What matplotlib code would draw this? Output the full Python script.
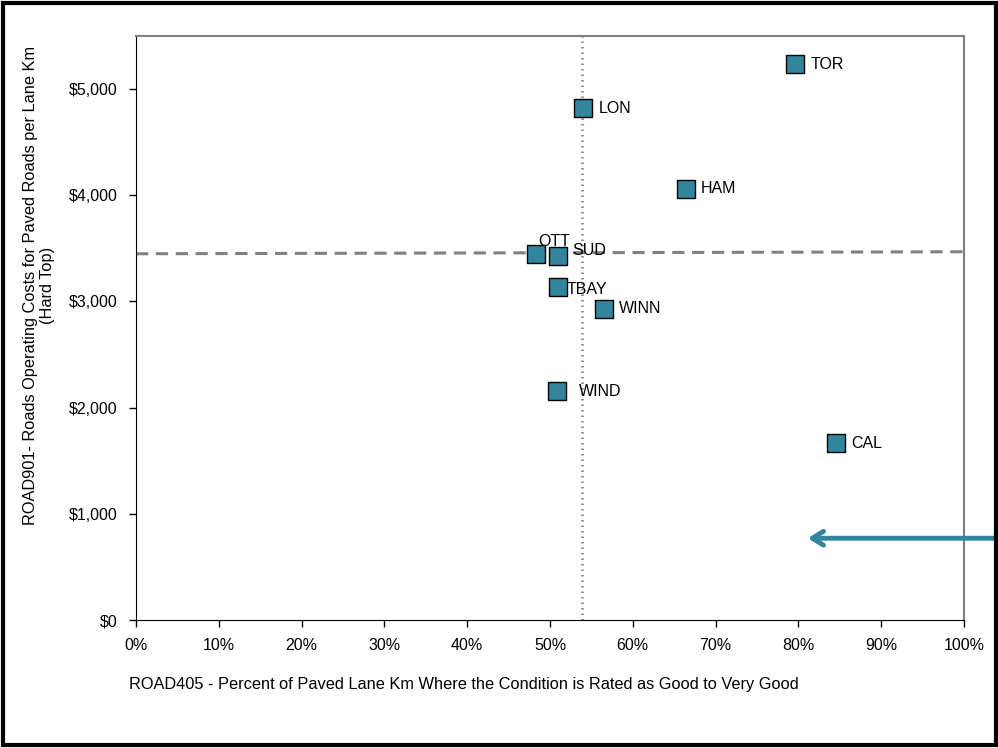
import matplotlib.pyplot as plt
from matplotlib.patches import Rectangle
from matplotlib.ticker import FuncFormatter

plt.rcParams['font.family'] = ['Liberation Sans', 'DejaVu Sans']

cities = ["TOR", "LON", "HAM", "OTT", "SUD", "TBAY", "WINN", "WIND", "CAL"]
pct_good = [79.6, 54.0, 66.4, 48.3, 51.0, 51.0, 56.5, 50.8, 84.5]
cost = [5235, 4821, 4060, 3449, 3430, 3139, 2932, 2152, 1664]

# label offsets in points (dx, dy)
offsets = {"OTT": (2, 9), "SUD": (10, 4), "TBAY": (6, -2), "WIND": (16, 0)}

median_pct = 53.9
avg_line = [3449, 3468]

teal = "#31859C"

fig = plt.figure(figsize=(9.98, 7.48), dpi=100)
ax = fig.add_axes([136 / 998, 1 - 620 / 748, (964 - 136) / 998, (620 - 36) / 748])

ax.plot([0, 100], avg_line, color="#808080", lw=2.2, ls=(0, (4, 2.5)), zorder=1)
ax.axvline(median_pct, color="#808080", lw=1.8, ls=(0, (0.6, 1.6)), zorder=1)

ax.scatter(pct_good, cost, marker="s", s=150, color=teal, edgecolor="black",
           linewidth=1.0, zorder=3)
for name, x, y in zip(cities, pct_good, cost):
    dx, dy = offsets.get(name, (11, 0))
    ax.annotate(name, (x, y), xytext=(dx, dy), textcoords="offset points",
                va="center", ha="left", fontsize=11.5, zorder=4)

ax.set_xlim(0, 100)
ax.set_ylim(0, 5500)
ax.set_xticks(range(0, 101, 10))
ax.set_yticks(range(0, 5001, 1000))
ax.xaxis.set_major_formatter(FuncFormatter(lambda v, p: f"{v:.0f}%"))
ax.yaxis.set_major_formatter(FuncFormatter(lambda v, p: f"${v:,.0f}"))
ax.tick_params(labelsize=11.5, length=5, direction="out", width=1)
ax.tick_params(axis="x", pad=8)
ax.tick_params(axis="y", pad=8)
ax.spines["top"].set_color("#808080")
ax.spines["right"].set_color("#808080")
ax.spines["top"].set_linewidth(1.5)
ax.spines["right"].set_linewidth(1.5)

fig.text(39 / 998, 1 - 285 / 748,
         "ROAD901- Roads Operating Costs for Paved Roads per Lane Km\n(Hard Top)",
         fontsize=11.8, rotation=90, ha="center", va="center", multialignment="center")
fig.text(129 / 998, 1 - 684 / 748,
         "ROAD405 - Percent of Paved Lane Km Where the Condition is Rated as Good to Very Good",
         fontsize=11.8, ha="left", va="center")

ax.annotate("", xy=(80.8, 770), xytext=(104.5, 770),
            arrowprops=dict(arrowstyle="->,head_length=0.8,head_width=0.5",
                            color=teal, lw=3.5),
            annotation_clip=False, zorder=5)

fig.patches.append(Rectangle((3 / 998, 3 / 748), 993 / 998, 742 / 748,
                             transform=fig.transFigure, fill=False,
                             edgecolor="black", lw=3))

fig.savefig("out.png", dpi=100)
